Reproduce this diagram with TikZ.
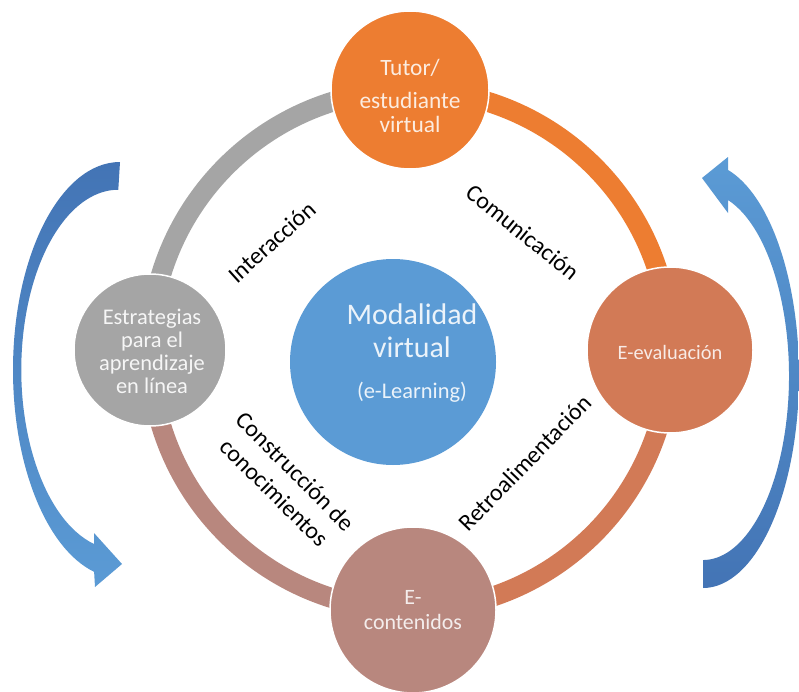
\documentclass[tikz,border=0pt]{standalone}
\usepackage{fontspec}
\setmainfont{Carlito}
\usetikzlibrary{positioning}

\definecolor{naranja}{HTML}{ED7D31}
\definecolor{gris}{HTML}{A5A5A5}
\definecolor{evalcol}{HTML}{D27A56}
\definecolor{contcol}{HTML}{B8877E}
\definecolor{azul}{HTML}{5B9BD5}
\definecolor{azulosc}{HTML}{4374B5}

\begin{document}
\begin{tikzpicture}[x=1bp,y=1bp,
  circulo/.style={circle,draw=white,line width=1.5bp,inner sep=0pt},
  texto/.style={align=center,inner sep=0pt},
  etiqueta/.style={align=center,inner sep=0pt,font=\fontsize{24}{30}\selectfont},
  anillo/.style={line width=20bp}]
\fill[white] (0,0) rectangle (799,-692);
\useasboundingbox (0,0) rectangle (799,-692);

% anillo exterior
\foreach \ini/\fin/\col in {180/90/gris,90/0/naranja,0/-90/evalcol,-90/-180/contcol}
  \draw[anillo,draw=\col] (410,-350) ++(\ini:260) arc (\ini:\fin:260);

% flechas laterales
\shade[top color=azulosc,bottom color=azul]
  (120,-162) arc[start angle=90,end angle=256,x radius=107,y radius=208]
  -- (95,-587) -- (122,-564) -- (94,-533) -- (94,-544)
  arc[start angle=255.5,end angle=90,x radius=97,y radius=180] -- cycle;
\shade[top color=azul,bottom color=azulosc]
  (703,-588) arc[start angle=-90,end angle=74.9,x radius=96,y radius=212.7]
  -- (728,-157) -- (702,-178) -- (728,-213) -- (728,-200)
  arc[start angle=73.1,end angle=-90,x radius=86,y radius=184] -- cycle;

% circulos
\node[circulo,fill=naranja,minimum size=158bp] (tutor) at (410,-90) {};
\node[circulo,fill=gris,minimum size=152bp] (estrategias) at (150,-350) {};
\node[circulo,fill=evalcol,minimum size=166bp] (evaluacion) at (670,-350) {};
\node[circulo,fill=contcol,minimum size=166bp] (contenidos) at (413,-610) {};
\node[circle,fill=azul,minimum size=206bp,inner sep=0pt] (modalidad) at (393,-362) {};

\node[texto,text=white!85!naranja,font=\fontsize{23.5}{24}\selectfont] (tutor-t)
  at ([yshift=-6bp]tutor.center) {Tutor/\\[9bp]estudiante\\virtual};
\node[texto,text=white!90!gris,font=\fontsize{22.5}{23}\selectfont] (estrategias-t)
  at ([xshift=2bp,yshift=-1bp]estrategias.center) {Estrategias\\para el\\aprendizaje\\en línea};
\node[texto,text=white!85!evalcol,font=\fontsize{20.5}{24}\selectfont] (evaluacion-t)
  at ([yshift=-2bp]evaluacion.center) {E-evaluación};
\node[texto,text=white!85!contcol,font=\fontsize{22}{25}\selectfont] (contenidos-t)
  at (contenidos.center) {E-\\contenidos};
\node[texto,text=white!88!azul,font=\fontsize{30}{33}\selectfont] (modalidad-t)
  at ([xshift=19bp,yshift=9bp]modalidad.center)
  {Modalidad\\virtual\\[8bp]{\fontsize{22.5}{26}\selectfont (e-Learning)}};

% etiquetas del anillo
\node[etiqueta,rotate=42] (interaccion) at (272,-242) {Interacción};
\node[etiqueta,rotate=-39] (comunicacion) at (523,-232) {Comunicación};
\node[etiqueta,rotate=-45] (construccion) at (285,-482) {Construcción de\\conocimientos};
\node[etiqueta,rotate=46] (retro) at (525,-463) {Retroalimentación};
\end{tikzpicture}
\end{document}
